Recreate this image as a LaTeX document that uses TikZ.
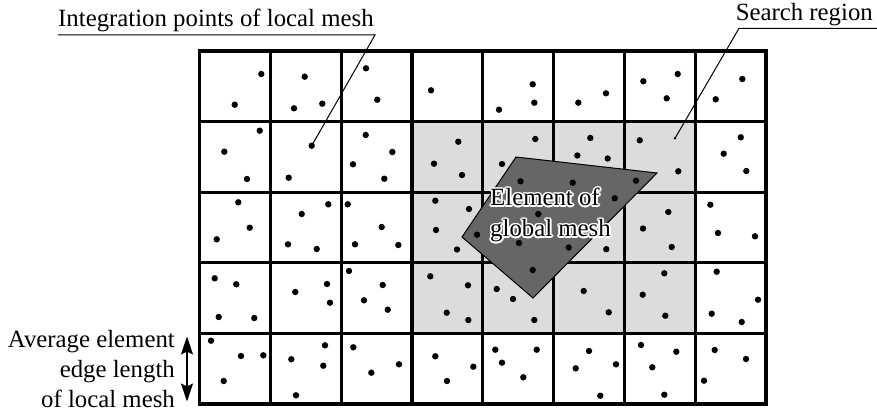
\documentclass[tikz,border=0pt]{standalone}
\usepackage{fontspec}
\setmainfont{Liberation Serif}
\usetikzlibrary{arrows.meta,calc}
\definecolor{searchgray}{RGB}{220,220,220}
\definecolor{elemgray}{RGB}{102,102,102}
\begin{document}
\begin{tikzpicture}[x=1pt,y=-1pt,
  gridline/.style={line width=3.2pt,line cap=rect},
  leader/.style={line width=1pt},
  lbl/.style={inner sep=0pt,font=\fontsize{24.8}{30}\selectfont},
  ipt/.style={fill=black}]
\useasboundingbox (0,0) rectangle (877,417);
% search region
\fill[searchgray] (411.9,121.6) rectangle (695.1,333.4);
% grid
\foreach \i in {0,...,8} \draw[gridline] ({199.5+\i*70.8},51) -- ({199.5+\i*70.8},404);
\foreach \j in {0,...,5} \draw[gridline] (199.5,{51+\j*70.6}) -- (765.9,{51+\j*70.6});
% element of global mesh
\coordinate (e1) at (516,157);
\coordinate (e2) at (657,173);
\coordinate (e3) at (533,298);
\coordinate (e4) at (462,237);
\filldraw[fill=elemgray,draw=black,line width=1pt] (e1) -- (e2) -- (e3) -- (e4) -- cycle;
% integration points
\foreach \x/\y in {
261.3/74, 234.7/104.7, 304.7/76.7, 294/108.3, 322.3/103.7, 366/68.3, 377.3/99.7,
431/90.3, 532.7/84.3, 534.3/102.7, 499/109.7, 606/93.3, 578.3/102.7,
643.3/81.3, 677.7/74, 666.7/98.3, 742.3/79, 715.7/99.3,
259.7/130.7, 224.3/151.7, 247/179, 288.7/177.7,
365.7/135, 392.3/152, 353/164.3, 384.3/178.7,
458.3/141.7, 434/163.7, 462/175,
535.3/139, 502/164, 520.5/181.3,
590.3/138, 577.3/155.5, 607.7/158.5, 572.7/182.7,
639.7/140.3, 678.3/171.3, 636/180.7,
740.7/137.3, 723.7/153.7, 746.3/171,
238.3/202.3, 249.7/227.7, 216.7/239.3,
328.3/204.3, 301.7/214, 288/244.3, 316.7/249,
347.7/204.3, 381.7/227, 355/244.3, 398.3/245,
435.3/200.7, 469/209, 436/230, 477/234.7, 457/249.5,
538.3/214, 519/243, 568.7/247.5,
614.7/198.3, 606.3/249.2,
668.3/212, 643/228.5, 671.7/247,
710.3/204.7, 718/233, 755/236.3,
214.7/278.3, 236.3/284.3, 218.7/317, 254.3/318,
295.3/292, 327/284, 330/302.7,
349/271, 382.7/285, 364/300.3, 387.7/309.7,
430.3/276.3, 468/285.3, 446.7/312.7, 468.3/320,
532.7/270, 496.7/289, 513/299, 534.3/320,
583.7/291, 608.7/312.3,
664.3/273.3, 642.7/294.7, 665.3/315.7,
716.7/271.7, 758/299.7, 711.7/313.7, 741.7/322,
211/340.7, 241/356, 263.3/355.3, 223.7/381,
325/345.3, 291.3/359.3, 323.3/365.7, 296/395.3,
353.3/347.3, 399/364.3, 371.3/372.7,
435.3/356.3, 473.3/366.7, 447/381,
495.3/349.7, 536.7/349.7, 502/362.7, 523.3/377.3,
589/351, 616/364.3, 575.7/368.3, 600.3/395.7,
641/345, 676.3/351.7, 652.3/367.3, 664.3/394.7,
714.7/350, 746/359, 704/380.7}
  \fill[ipt] (\x,\y) circle (3.2pt);
% leader: integration points
\coordinate (ipA) at (311.7,145.7);
\fill[ipt] (ipA) circle (3.2pt);
\node[lbl,anchor=base west] (intlbl) at (58,27) {Integration points of local mesh};
\coordinate (intstart) at (58,35);
\coordinate (intbend) at (375,35);
\draw[leader] (intstart) -- (intbend) -- (ipA);
% leader: search region
\coordinate (srpt) at (675,138.3);
\fill[ipt] (srpt) circle (1.4pt);
\node[lbl,anchor=base east] (srlbl) at (873,20.5) {Search region};
\coordinate (srend) at (877,28.3);
\coordinate (srbend) at (739,28.3);
\draw[leader] (srend) -- (srbend) -- (srpt);
% element label with white halo
\foreach \a in {0,22.5,...,337.5} {
  \node[lbl,anchor=base west,text=white] at ($(490,205.7)+(\a:1.7)$) {Element of};
  \node[lbl,anchor=base west,text=white] at ($(490,236.7)+(\a:1.7)$) {global mesh};
}
\node[lbl,anchor=base west] (elemA) at (490,205.7) {Element of};
\node[lbl,anchor=base west] (elemB) at (490,236.7) {global mesh};
% average edge length
\node[lbl,anchor=base east] (avgA) at (175,347) {Average element};
\node[lbl,anchor=base east] (avgB) at (175,377) {edge length};
\node[lbl,anchor=base east] (avgC) at (175,407) {of local mesh};
\coordinate (arTop) at (187,336.5);
\coordinate (arBot) at (187,401.5);
\draw[line width=1.5pt,{Stealth[length=18pt,width=12pt,inset=3pt]}-{Stealth[length=18pt,width=12pt,inset=3pt]}] (arTop) -- (arBot);
\end{tikzpicture}
\end{document}
